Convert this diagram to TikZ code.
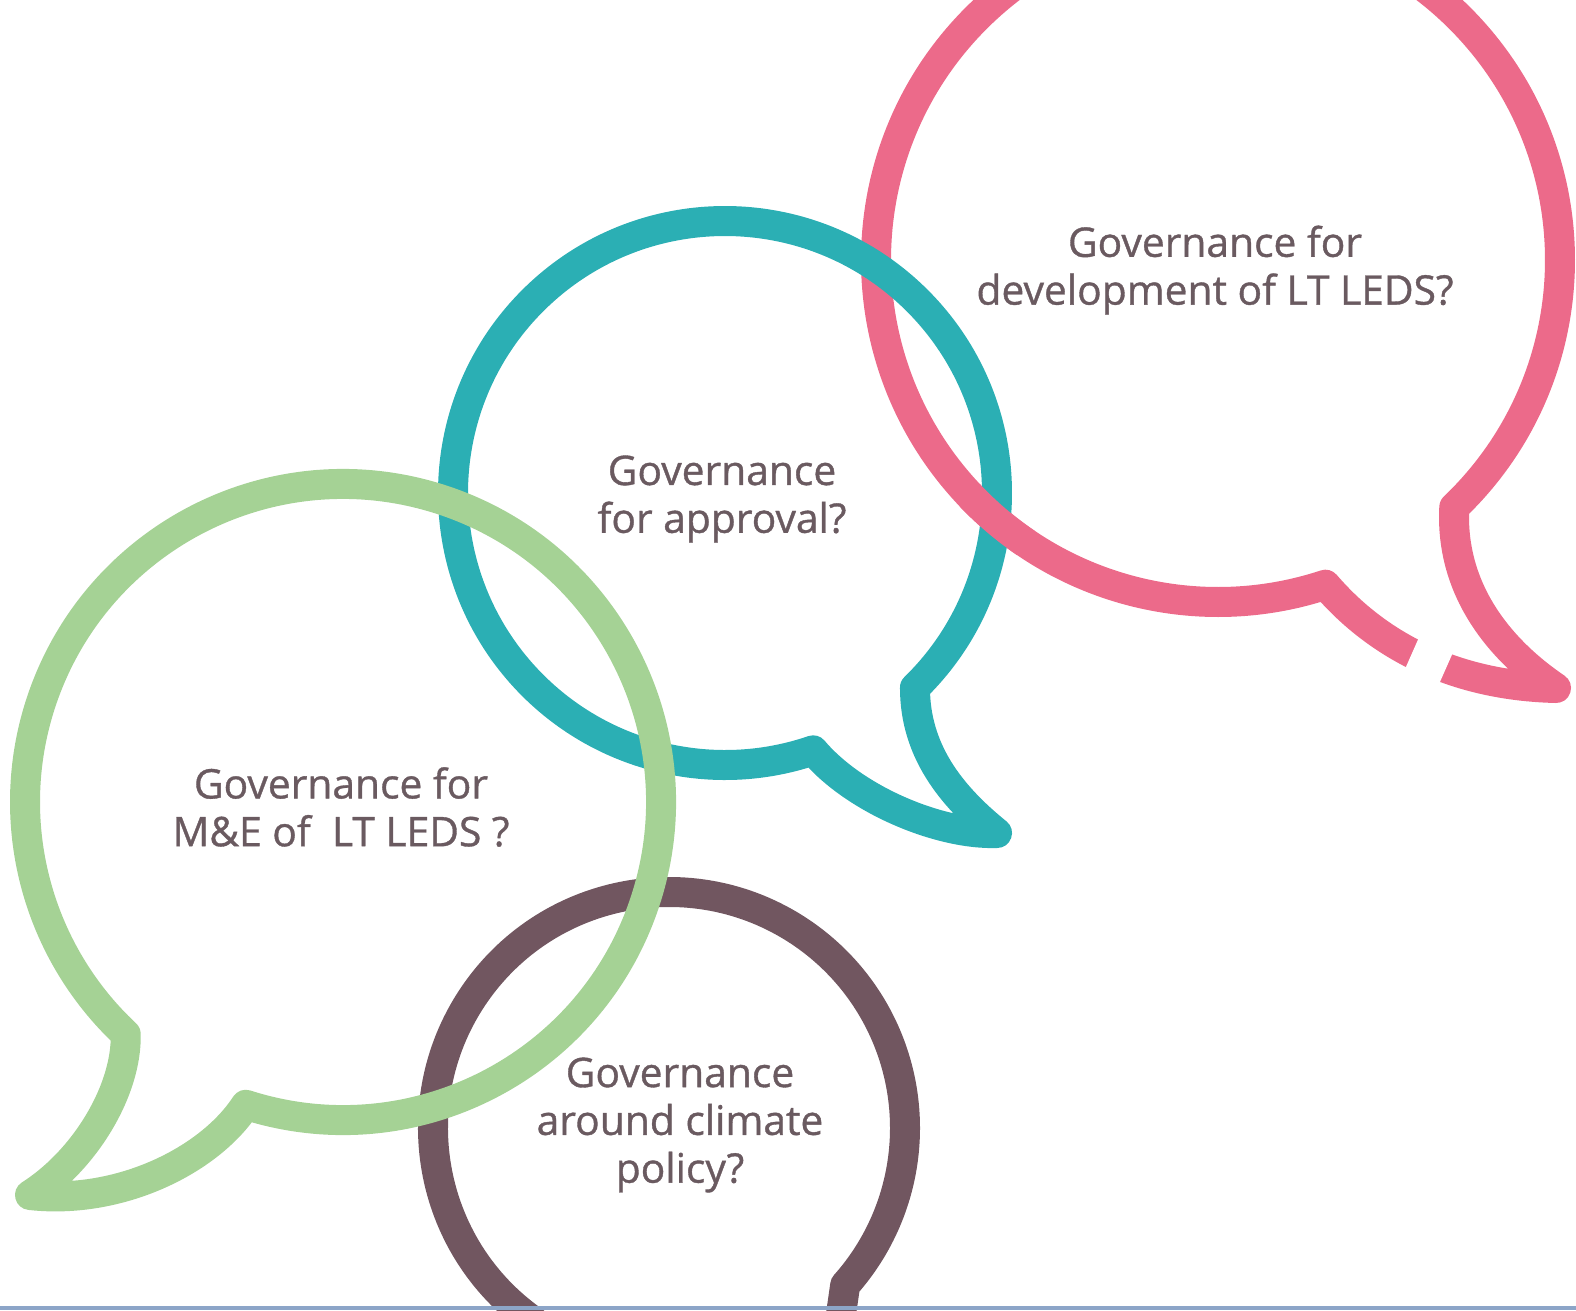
\documentclass[tikz,border=0pt]{standalone}
\usepackage{fontspec}
\newfontfamily\qfont[FakeBold=0.9]{Open Sans}
\usetikzlibrary{calc}
\definecolor{rosec}{RGB}{236,106,138}
\definecolor{tealc}{RGB}{43,175,180}
\definecolor{leafc}{RGB}{165,210,149}
\definecolor{plumc}{RGB}{113,86,96}
\definecolor{inkc}{RGB}{106,90,96}
\definecolor{rulec}{RGB}{140,165,200}
\begin{document}
\begin{tikzpicture}[bubble/.style={line width=3mm,line join=round,line cap=round},
    question/.style={align=center,text=inkc,font=\qfont\fontsize{11.6}{13.6}\selectfont}]
    \useasboundingbox (0,0) rectangle (15.76,-13.10);
    \clip (0,0) rectangle (15.76,-13.10);
    % centres of the bubbles
    \coordinate (pc) at (12.18,-2.60);
    \coordinate (tc) at (7.25,-4.93);
    \coordinate (gc) at (3.43,-8.02);
    \coordinate (bc) at (6.69,-11.28);
    \coordinate (pu) at ($(pc)+(-46.3:3.42)$);
    \coordinate (tu) at ($(tc)+(-45.7:2.72)$);
    \coordinate (gb) at ($(gc)+(-107.8:3.18)$);
    % development bubble
    \draw[bubble,rosec] (pu) arc[start angle=-46.3,end angle=288.3,radius=3.42]
        .. controls (13.6,-6.25) and (14.3,-6.85) .. (15.56,-6.88)
        .. controls (15.0,-6.5) and (14.5,-5.9) .. (pu) -- cycle;
    \draw[white,line width=6mm] (14.09,-6.60) -- (14.43,-6.75);
    % approval bubble
    \draw[bubble,tealc] (tu) arc[start angle=-45.7,end angle=288.9,radius=2.72]
        .. controls (8.55,-8.0) and (9.4,-8.35) .. (9.97,-8.33)
        .. controls (9.5,-7.95) and (9.15,-7.5) .. (tu) -- cycle;
    \begin{scope}
        \clip (9.96,-5.21) circle (0.4);
        \draw[bubble,rosec] (pc) circle (3.42);
    \end{scope}
    % climate policy bubble
    \draw[bubble,plumc] ($(bc)+(235:2.36)$) arc[start angle=235,end angle=-41.7,radius=2.36] -- (8.38,-13.35);
    % M&E bubble
    \draw[bubble,leafc] (gb) arc[start angle=-107.8,end angle=226.9,radius=3.18]
        .. controls (1.27,-10.9) and (0.85,-11.6) .. (0.30,-11.95)
        .. controls (1.2,-12.05) and (2.1,-11.6) .. (gb) -- cycle;
    \fill[rulec] (0,-13.06) rectangle (15.76,-13.10);
    \node[question] (dev) at (12.15,-2.70) {Governance for\\development of LT LEDS?};
    \node[question] (appr) at (7.22,-4.99) {Governance\\for approval?};
    \node[question] (me) at (3.41,-8.07) {Governance for\\M\&E of \ LT LEDS ?};
    \node[question] (clim) at (6.80,-11.25) {Governance\\around climate\\policy?};
\end{tikzpicture}
\end{document}
